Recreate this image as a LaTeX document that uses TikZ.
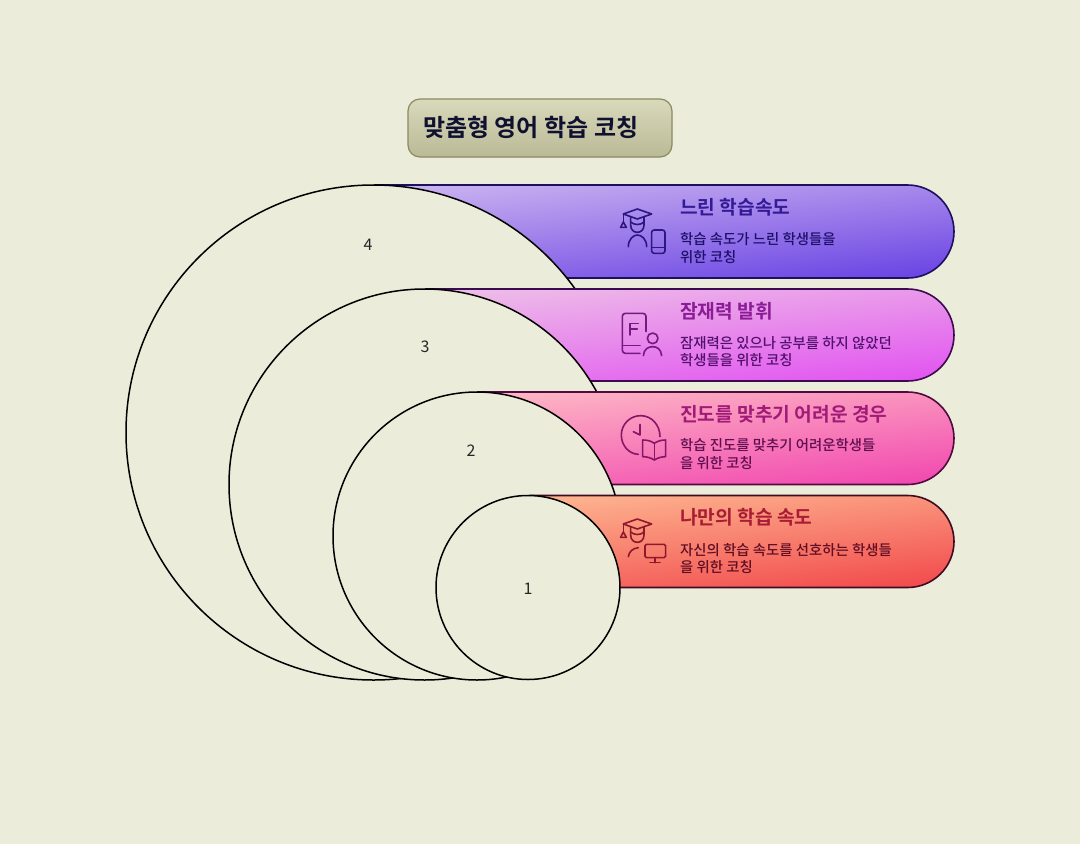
\documentclass[tikz,border=0pt]{standalone}
\usepackage{fontspec}
\setmainfont{Noto Sans CJK KR}[BoldFont={Noto Sans CJK KR Medium}]
\newfontfamily\titlefont{Noto Sans CJK KR Bold}
\definecolor{bgc}{HTML}{EBECD9}
\definecolor{titleTop}{HTML}{D9D9BC}
\definecolor{titleBot}{HTML}{BABA96}
\definecolor{titleLine}{HTML}{8A8A62}
\definecolor{titleText}{HTML}{101030}
\definecolor{topA}{HTML}{C9B0F0}
\definecolor{botA}{HTML}{6C46E4}
\definecolor{topB}{HTML}{EDBCE8}
\definecolor{botB}{HTML}{E256F0}
\definecolor{topC}{HTML}{FDB4C4}
\definecolor{botC}{HTML}{F24AB0}
\definecolor{topD}{HTML}{FDB28E}
\definecolor{botD}{HTML}{F24C4E}
\definecolor{lineA}{HTML}{1C1060}
\definecolor{lineB}{HTML}{3C0A50}
\definecolor{lineC}{HTML}{500A40}
\definecolor{lineD}{HTML}{400A20}
\definecolor{headA}{HTML}{341A96}
\definecolor{headB}{HTML}{8A1C96}
\definecolor{headC}{HTML}{A01A78}
\definecolor{headD}{HTML}{A81C34}
\definecolor{bodyA}{HTML}{1E1068}
\definecolor{bodyB}{HTML}{50106C}
\definecolor{bodyC}{HTML}{600E50}
\definecolor{bodyD}{HTML}{600E24}
\tikzset{
  x=1pt,y=-1pt,
  ring/.style={draw=black,line width=1.5pt},
  bandshape/.style={line width=1.6pt},
  numlabel/.style={font=\fontsize{16}{18}\selectfont, text=black!85,inner sep=0pt},
  head/.style={anchor=west,inner sep=0pt,font=\fontsize{19.2}{22}\selectfont\titlefont},
  body/.style={anchor=north west,inner sep=0pt,align=left,font=\fontsize{14.4}{17.4}\selectfont\bfseries},
  icon/.style={line width=1.6pt,line cap=round,line join=round},
}
% #1 left, #2 top, #3 bottom, #4 control-point x, #5 and #6 control-point y, #7 middle y
\newcommand{\bandpath}[7]{(#1,#2) -- (907.5,#2) .. controls (#4,#2) and (954,#5) .. (954,#7) .. controls (954,#6) and (#4,#3) .. (907.5,#3) -- (#1,#3) -- cycle}
\begin{document}
\begin{tikzpicture}
\useasboundingbox (0,0) rectangle (1080,844);
\fill[bgc] (0,0) rectangle (1080,844);

% title
\shadedraw[top color=titleTop,bottom color=titleBot,draw=titleLine,line width=1.2pt,rounded corners=12pt]
  (408,99) rectangle (672,157);
\node[anchor=west,inner sep=0pt,text=titleText,font=\fontsize{24}{28}\selectfont\titlefont] (title) at (423,127) {맞춤형 영어 학습 코칭};

% band 4 and circle 4
\shadedraw[bandshape,draw=lineA,top color=topA,bottom color=botA,shading angle=6]
  \bandpath{375}{185}{278}{933.2}{205.8}{257.2}{231.5};
\fill[bgc] (373.5,432.5) circle[radius=247.5];
\begin{scope}
  \clip (0,0) -- (1080,0) -- (1080,289) -- (430,289) -- (430,844) -- (0,844) -- cycle;
  \draw[ring] (373.5,432.5) circle[radius=247.5];
\end{scope}
\node[numlabel] (n4) at (368,245) {4};

% band 3 and circle 3
\shadedraw[bandshape,draw=lineB,top color=topB,bottom color=botB,shading angle=6]
  \bandpath{426}{289}{381}{933.2}{309.4}{360.6}{335};
\fill[bgc] (424.5,484.5) circle[radius=195.5];
\begin{scope}
  \clip (0,0) -- (1080,0) -- (1080,392) -- (480,392) -- (480,844) -- (0,844) -- cycle;
  \draw[ring] (424.5,484.5) circle[radius=195.5];
\end{scope}
\node[numlabel] (n3) at (425,347) {3};

% band 2 and circle 2
\shadedraw[bandshape,draw=lineC,top color=topC,bottom color=botC,shading angle=6]
  \bandpath{478}{392}{484.5}{933.2}{412.6}{463.9}{438.25};
\fill[bgc] (477,536) circle[radius=144];
\begin{scope}
  \clip (0,0) -- (1080,0) -- (1080,495.5) -- (530,495.5) -- (530,844) -- (0,844) -- cycle;
  \draw[ring] (477,536) circle[radius=144];
\end{scope}
\node[numlabel] (n2) at (471,451) {2};

% band 1 and circle 1
\shadedraw[bandshape,draw=lineD,top color=topD,bottom color=botD,shading angle=6]
  \bandpath{530}{495.5}{587.5}{933.2}{516.1}{566.9}{541.5};
\fill[bgc] (528,587.5) circle[radius=92];
\draw[ring] (528,587.5) circle[radius=92];
\node[numlabel] (n1) at (528,589) {1};

% texts
\node[head,text=headA] (h4) at (680,207.5) {느린 학습속도};
\node[body,text=bodyA] (b4) at (680,232.5) {학습 속도가 느린 학생들을\\위한 코칭};
\node[head,text=headB] (h3) at (680,311.5) {잠재력 발휘};
\node[body,text=bodyB] (b3) at (680,336) {잠재력은 있으나 공부를 하지 않았던\\학생들을 위한 코칭};
\node[head,text=headC] (h2) at (680,414.5) {진도를 맞추기 어려운 경우};
\node[body,text=bodyC] (b2) at (680,438.5) {학습 진도를 맞추기 어려운학생들\\을 위한 코칭};
\node[head,text=headD] (h1) at (680,517.5) {나만의 학습 속도};
\node[body,text=bodyD] (b1) at (680,543) {자신의 학습 속도를 선호하는 학생들\\을 위한 코칭};

% icon: cap + phone
\begin{scope}[shift={(610,200)},x=0.3333pt,y=-0.3333pt,icon,draw=headA!85!black]
  \draw (40,42) -- (82,27) -- (125,42) -- (82,57) -- cycle;
  \draw (40,42) -- (40,68);
  \draw (32,82) -- (40,66) -- (49,82) -- cycle;
  \draw (62,50) -- (62,75) .. controls (62,90) and (72,97) .. (82,97) .. controls (92,97) and (102,90) .. (102,75) -- (102,50);
  \draw (62,66) .. controls (72,76) and (92,76) .. (102,66);
  \draw (55,140) .. controls (55,118) and (70,105) .. (82,105) .. controls (95,105) and (110,118) .. (110,140);
  \draw[rounded corners=2.5pt] (125,90) rectangle (165,160);
  \draw (125,142) -- (165,142);
\end{scope}

% icon: document + person
\begin{scope}[shift={(610,305)},x=0.3333pt,y=-0.3333pt,icon,draw=headB!85!black]
  \draw[rounded corners=3pt] (108,80) -- (108,25) -- (37,25) -- (37,145) -- (90,145);
  \draw (37,122) -- (90,122);
  \draw (85,55) -- (60,55) -- (60,90);
  \draw (60,72) -- (82,72);
  \draw (128,100) circle[radius=16];
  \draw (100,152) .. controls (102,132) and (115,125) .. (128,125) .. controls (141,125) and (153,132) .. (155,152);
\end{scope}

% icon: clock + book
\begin{scope}[shift={(610,410)},x=0.3333pt,y=-0.3333pt,icon,draw=headC!85!black]
  \draw (150,80) .. controls (150,45) and (125,17) .. (92,17) .. controls (60,17) and (34,43) .. (34,75) .. controls (34,107) and (57,132) .. (85,133);
  \draw (90,43) -- (90,75) -- (70,65);
  \draw (133,100) .. controls (122,92) and (110,90) .. (98,90) -- (98,140) .. controls (110,140) and (122,143) .. (133,150)
        .. controls (144,143) and (156,140) .. (167,140) -- (167,90) .. controls (156,90) and (144,92) .. (133,100) -- cycle;
  \draw (133,100) -- (133,150);
\end{scope}

% icon: cap + monitor
\begin{scope}[shift={(610,510)},x=0.3333pt,y=-0.3333pt,icon,draw=headD!85!black]
  \draw (40,42) -- (82,27) -- (125,42) -- (82,57) -- cycle;
  \draw (40,42) -- (40,68);
  \draw (32,82) -- (40,66) -- (49,82) -- cycle;
  \draw (62,50) -- (62,75) .. controls (62,90) and (72,97) .. (82,97) .. controls (92,97) and (102,90) .. (102,75) -- (102,50);
  \draw (62,66) .. controls (72,76) and (92,76) .. (102,66);
  \draw (55,140) .. controls (57,125) and (68,115) .. (85,113);
  \draw[rounded corners=1.5pt] (105,103) rectangle (167,143);
  \draw (135,143) -- (135,158);
  \draw (120,158) -- (150,158);
\end{scope}
\end{tikzpicture}
\end{document}
